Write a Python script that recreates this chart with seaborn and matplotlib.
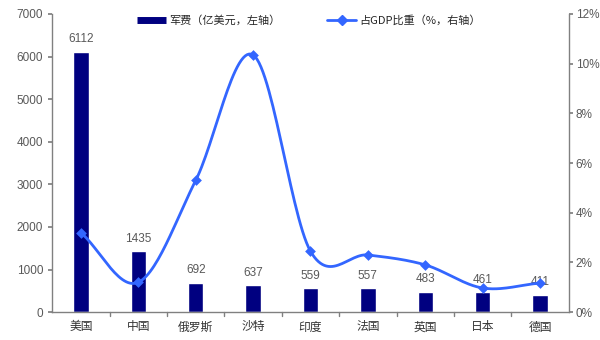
import numpy as np
import pandas as pd
import matplotlib
matplotlib.use("Agg")
import matplotlib.pyplot as plt
from matplotlib.lines import Line2D
import seaborn as sns

countries = ["美国", "中国", "俄罗斯", "沙特", "印度", "法国", "英国", "日本", "德国"]
spending = [6112, 1435, 692, 637, 559, 557, 483, 461, 411]
gdp_share = [3.2, 1.2, 5.3, 10.35, 2.45, 2.3, 1.9, 0.97, 1.17]

sns.set_theme(style="white")
plt.rcParams["font.family"] = ["Liberation Sans", "Noto Sans CJK SC", "DejaVu Sans"]

BAR = "#000080"
LINE = "#3366FF"
GREY = "#595959"
SPINE = "#808080"

df = pd.DataFrame({"country": countries, "spending": spending, "share": gdp_share})
df["pos"] = np.arange(len(df))

fig = plt.figure(figsize=(6, 3.4), dpi=100)
ax = fig.add_axes([0.087, 0.082, 0.861, 0.877])

sns.barplot(data=df, x="country", y="spending", color=BAR, saturation=1,
            width=0.27, ax=ax)
ax.set_ylim(0, 7000)
ax.set_xlim(-0.5, len(df) - 0.5)
ax.set_yticks(np.arange(0, 7001, 1000))
ax.set_xlabel("")
ax.set_ylabel("")
for i, v in enumerate(spending):
    ax.text(i, v + 150, str(v), ha="center", va="bottom", fontsize=8.5, color=GREY)

ax2 = ax.twinx()


def catmull_rom(x, y, n=30):
    px = np.concatenate([[2 * x[0] - x[1]], x, [2 * x[-1] - x[-2]]])
    py = np.concatenate([[2 * y[0] - y[1]], y, [2 * y[-1] - y[-2]]])
    xs, ys = [], []
    t = np.linspace(0, 1, n)
    for i in range(1, len(px) - 2):
        for p, out in ((px, xs), (py, ys)):
            p0, p1, p2, p3 = p[i - 1], p[i], p[i + 1], p[i + 2]
            out.append(0.5 * ((2 * p1) + (-p0 + p2) * t
                              + (2 * p0 - 5 * p1 + 4 * p2 - p3) * t ** 2
                              + (-p0 + 3 * p1 - 3 * p2 + p3) * t ** 3))
    return np.concatenate(xs), np.concatenate(ys)


sx, sy = catmull_rom(df["pos"].to_numpy(float), df["share"].to_numpy(float))
ax2.plot(sx, sy, color=LINE, lw=2, solid_capstyle="round")
sns.scatterplot(data=df, x="pos", y="share", marker="D", color=LINE, s=30,
                edgecolor=LINE, linewidth=0, ax=ax2, zorder=5)
ax2.set_ylim(0, 12)
ax2.set_xlim(-0.5, len(df) - 0.5)
ax2.set_yticks(np.arange(0, 13, 2))
ax2.set_yticklabels([f"{v}%" for v in range(0, 13, 2)])
ax2.set_xlabel("")
ax2.set_ylabel("")

for a in (ax, ax2):
    a.spines["top"].set_visible(False)
    for s in ("left", "right", "bottom"):
        a.spines[s].set_color(SPINE)
        a.spines[s].set_linewidth(1)
    a.tick_params(axis="y", colors=SPINE, labelcolor=GREY, labelsize=8.5,
                  length=3, direction="out")
ax2.tick_params(axis="y", pad=2)

ax.spines["right"].set_visible(False)
ax2.spines["left"].set_visible(False)
ax2.spines["bottom"].set_visible(False)

ax.set_xticks(np.arange(len(df)))
ax.set_xticklabels(countries, fontsize=8.5, color="#333333",
                   fontfamily=["Noto Sans CJK SC", "DejaVu Sans"])
ax.tick_params(axis="x", length=0, pad=6)
for b in np.arange(0.5, len(df) - 0.5, 1.0):
    ax.plot([b, b], [0, -0.012], transform=ax.get_xaxis_transform(),
            color=SPINE, lw=1, clip_on=False)

handles = [
    Line2D([0], [0], color=BAR, lw=5, solid_capstyle="butt"),
    Line2D([0], [0], color=LINE, lw=2, marker="D", markersize=5),
]
labels = ["军费（亿美元，左轴）", "占GDP比重（%，右轴）"]
fig.legend(handles, labels, loc="upper center", bbox_to_anchor=(0.515, 0.985),
           ncol=2, frameon=False, handlelength=2.6, handletextpad=0.3,
           columnspacing=4.2,
           prop={"family": ["Noto Sans CJK SC", "DejaVu Sans"], "size": 8})

fig.savefig("out.png", dpi=100)
